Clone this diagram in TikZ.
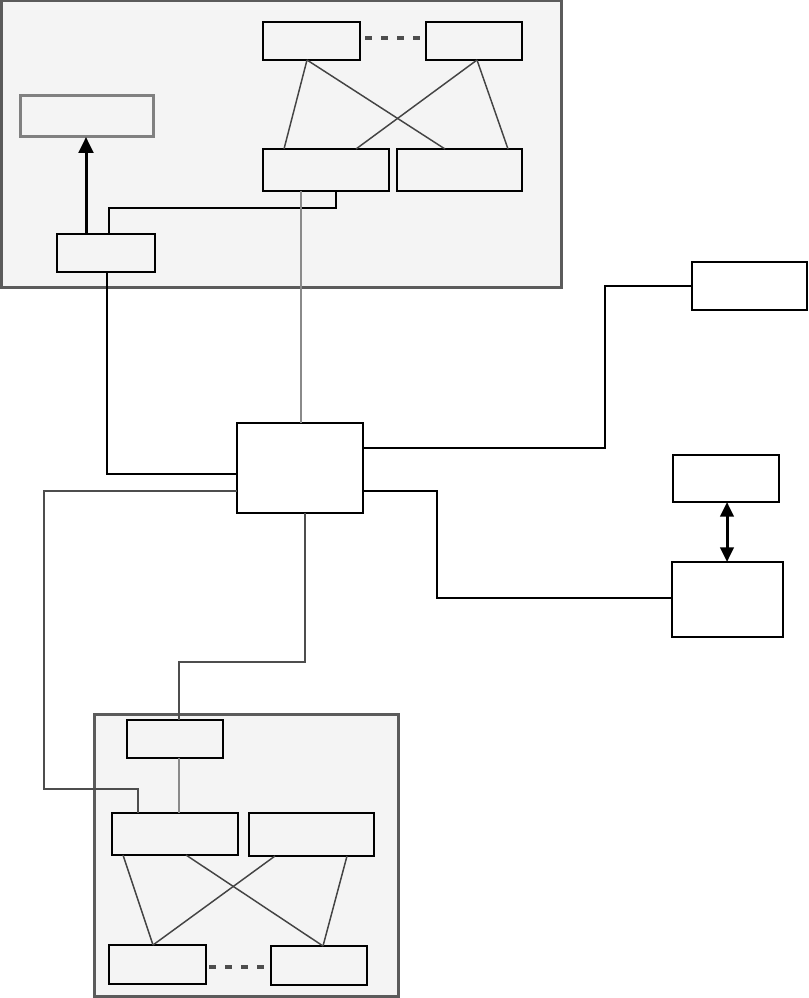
\documentclass[tikz,border=0pt]{standalone}
\usetikzlibrary{fit,calc,arrows.meta}
\definecolor{panelfill}{HTML}{F4F4F4}
\definecolor{panelline}{HTML}{5B5B5B}
\definecolor{crossline}{HTML}{444444}
\definecolor{dotline}{HTML}{4D4D4D}
\definecolor{lightline}{HTML}{8A8A8A}
\definecolor{greybox}{HTML}{808080}
\tikzset{
  panel/.style={draw=panelline, fill=panelfill, line width=2.25pt, inner sep=0pt, outer sep=0pt},
  box/.style={draw=black, line width=1.5pt, inner sep=0pt, outer sep=0pt},
  wbox/.style={box, fill=white},
  thinbox/.style={draw=black, line width=1.1pt, inner sep=0pt, outer sep=0pt},
  gbox/.style={draw=greybox, line width=2.25pt, inner sep=0pt, outer sep=0pt},
  cross/.style={draw=crossline, line width=1.1pt},
  dotted link/.style={draw=dotline, line width=3.6pt, dash pattern=on 5.6pt off 6.4pt},
  conn/.style={draw=black, line width=1.1pt},
  midconn/.style={draw=black, line width=1.25pt},
  lightconn/.style={draw=lightline, line width=0.9pt},
  darkconn/.style={draw=dotline, line width=1.2pt},
  heavyconn/.style={draw=black, line width=1.5pt},
  bigarrow/.style={draw=black, line width=2.25pt, -{Triangle[width=11pt,length=12pt]}},
  bigdarrow/.style={draw=black, line width=2.25pt, {Triangle[width=10pt,length=11pt]}-{Triangle[width=10pt,length=11pt]}}
}
\begin{document}
\begin{tikzpicture}[x=0.75pt,y=-0.75pt]
\useasboundingbox (0,0) rectangle (809,998);
% containers
\node[panel, fit={(1,1) (561,288)}] (T) {};
\node[panel, fit={(94,714) (398,996)}] (U) {};
% top group
\node[box, fit={(263,22) (360,60)}] (A1) {};
\node[box, fit={(426,22) (522,60)}] (A2) {};
\node[gbox, fit={(20,96) (153,137)}] (G) {};
\node[box, fit={(263,149) (389,191)}] (B1) {};
\node[box, fit={(397,149) (522,191)}] (B2) {};
\node[box, fit={(57,234) (155,272)}] (C) {};
% center & right
\node[wbox, fit={(237,423) (363,513)}] (D) {};
\node[wbox, fit={(692,262) (807,310)}] (E) {};
\node[wbox, fit={(673,455) (779,502)}] (F) {};
\node[wbox, fit={(672,562) (783,637)}] (G2) {};
% bottom group
\node[box, fit={(127,720) (223,758)}] (H) {};
\node[box, fit={(112,813) (238,855)}] (I1) {};
\node[thinbox, fit={(249,813) (374,856)}] (I2) {};
\node[box, fit={(109,945) (206,984)}] (J1) {};
\node[thinbox, fit={(271,946) (367,985)}] (J2) {};
% top crosses
\draw[cross] ($(A1.south west)+(44,0)$) -- ($(B1.north west)+(21,0)$);
\draw[cross] ($(A1.south west)+(44,0)$) -- ($(B2.north west)+(48,0)$);
\draw[cross] ($(A2.south west)+(51,0)$) -- ($(B1.north west)+(93,0)$);
\draw[cross] ($(A2.south west)+(51,0)$) -- ($(B2.north west)+(111,0)$);
\draw[dotted link] ($(A1.east)+(5,-3)$) -- ($(A2.west)+(-4,-3)$);
% bottom crosses
\draw[cross] ($(I1.south west)+(11,0)$) -- ($(J1.north west)+(44,0)$);
\draw[cross] ($(I1.south west)+(74,0)$) -- ($(J2.north west)+(52,0)$);
\draw[cross] ($(I2.south west)+(26,0)$) -- ($(J1.north west)+(44,0)$);
\draw[cross] ($(I2.south west)+(98,0)$) -- ($(J2.north west)+(52,0)$);
\draw[dotted link] ($(J1.east)+(3,2.5)$) -- ($(J2.west)+(-5,1.5)$);
% top group connectors
\draw[bigarrow] ($(C.north west)+(29,0)$) -- ($(G.south west)+(66,0)$);
\draw[conn] ($(C.north west)+(52,0)$) |- ($(B1.south west)+(73,17)$) -- ($(B1.south west)+(73,0)$);
\draw[lightconn] ($(B1.south west)+(38,0)$) -- ($(D.north west)+(64,0)$);
\draw[midconn] ($(C.south west)+(50,0)$) |- ($(D.north west)+(0,51)$);
% center connectors
\draw[darkconn] ($(D.north west)+(0,68)$) -- ++(-193,0) |- ($(I1.north west)+(26,-24)$) -- ($(I1.north west)+(26,0)$);
\draw[darkconn] ($(D.south west)+(68,0)$) -- ++(0,149) -| ($(H.north west)+(52,0)$);
\draw[heavyconn] ($(D.north east)+(0,25)$) -- ++(242,0) |- (E.west);
\draw[conn] ($(D.north east)+(0,68)$) -- ++(74,0) |- ($(G2.north west)+(0,36)$);
\draw[bigdarrow] ($(F.south west)+(54,0)$) -- ($(G2.north west)+(55,0)$);
\draw[lightconn] ($(H.south west)+(52,0)$) -- ($(I1.north west)+(67,0)$);
\end{tikzpicture}
\end{document}
